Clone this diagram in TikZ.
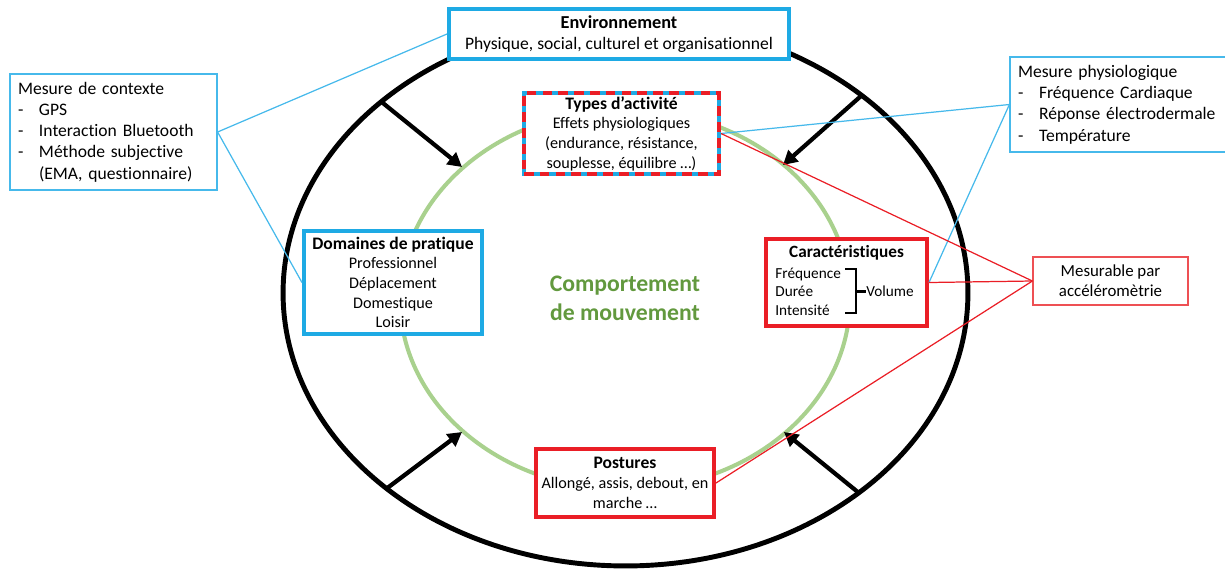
\documentclass[tikz,border=0pt]{standalone}
\usepackage{fontspec}
\setmainfont{Carlito}[Ligatures=NoCommon]
\usetikzlibrary{arrows.meta}

\definecolor{boxblue}{RGB}{30,170,228}
\definecolor{boxred}{RGB}{234,30,38}
\definecolor{thinblue}{RGB}{70,185,235}
\definecolor{thinred}{RGB}{238,80,84}
\definecolor{ringgreen}{RGB}{169,209,142}
\definecolor{textgreen}{RGB}{98,153,62}

\newcommand{\dashitem}[1]{\makebox[0.42cm][l]{-}#1}

\tikzset{
  bigbox/.style={line width=2.3pt, fill=white, align=center, inner sep=0pt},
  bluebox/.style={bigbox, draw=boxblue},
  redbox/.style={bigbox, draw=boxred},
  mixbox/.style={bigbox, draw=boxblue,
    postaction={draw=boxred, line width=2.3pt, dash pattern=on 5.5pt off 3.5pt}},
  notebox/.style={draw=thinblue, line width=0.7pt, fill=white, align=left,
    inner ysep=0pt, inner xsep=0.16cm, font=\fontsize{10}{12.1}\selectfont},
  mainfont/.style={font=\fontsize{10}{11.6}\selectfont},
  smallfont/.style={font=\fontsize{9.2}{11.2}\selectfont},
  tinyfont/.style={font=\fontsize{8.7}{10.5}\selectfont, inner sep=0pt},
  ring/.style={line width=2.8pt},
  inring/.style={draw=ringgreen, line width=2.3pt},
  push/.style={line width=2.4pt, -{Triangle[length=8pt, width=8.5pt]}},
  bluelink/.style={draw=thinblue, line width=0.7pt},
  redlink/.style={draw=boxred, line width=0.7pt},
}

\begin{document}
\begin{tikzpicture}[x=0.02cm, y=-0.02cm]
        \useasboundingbox (0,0) rectangle (1225,572);

        % Drawing the two rings
        \draw [ring] (625.5,293) ellipse [x radius=6.85cm, y radius=5.46cm];%
        \draw [inring] (625,299.5) ellipse [x radius=4.5cm, y radius=3.8cm];%

        % Arrow end points on the rings
        \coordinate (o1) at (381,101.5);
        \coordinate (i1) at (462,167);
        \coordinate (o2) at (861,96);
        \coordinate (i2) at (783,165);
        \coordinate (o3) at (386,489);
        \coordinate (i3) at (462,432);
        \coordinate (o4) at (859,493);
        \coordinate (i4) at (784,432);

        % Drawing arrows from outer ring to inner ring
        \draw [push] (o1) -- (i1);%
        \draw [push] (o2) -- (i2);%
        \draw [push] (o3) -- (i3);%
        \draw [push] (o4) -- (i4);%

        % Boxes on the rings
        \node [bluebox, mainfont, minimum width=6.8cm, minimum height=1.0cm] (env) at (619,34)
          {\textbf{\fontsize{10.4}{11.6}\selectfont Environnement}\\Physique, social, culturel et organisationnel};%
        \node [mixbox, smallfont, minimum width=3.9cm, minimum height=1.62cm] (types) at (621.5,133.5)
          {\textbf{\fontsize{10}{11.2}\selectfont Types d’activité}\\Effets physiologiques\\(endurance, résistance,\\souplesse, équilibre …)};%
        \node [bluebox, smallfont, minimum width=3.56cm, minimum height=2.06cm] (dom) at (393,282.5)
          {\textbf{\fontsize{10}{11.2}\selectfont Domaines de pratique}\\Professionnel\\Déplacement\\Domestique\\Loisir};%
        \node [redbox, minimum width=3.22cm, minimum height=1.74cm] (car) at (846.5,282.5) {};%
        \node [redbox, smallfont, minimum width=3.56cm, minimum height=1.36cm] (post) at (625,483)
          {\textbf{\fontsize{10}{11.2}\selectfont Postures}\\Allongé, assis, debout, en\\marche …};%

        % Contents of Caracteristiques
        \node [font=\bfseries\fontsize{9.8}{11}\selectfont, inner sep=0pt] (cartitle) at (846.5,253) {Caractéristiques};%
        \node [tinyfont, align=left, anchor=west] (carlist) at (775,291.5) {Fréquence\\Durée\\Intensité};%
        \node [tinyfont, anchor=west] (vol) at (866,291.5) {Volume};%
        \draw [line width=1.3pt] (845,269) -- (856,269) -- (856,313) -- (845,313);%
        \draw [line width=1.3pt] (856,291.5) -- (vol.west);%

        % Centre text
        \node [font=\bfseries\fontsize{13.5}{16.5}\selectfont, text=textgreen, align=center] (comp) at (625,298)
          {Comportement\\de mouvement};%

        % Measurement notes
        \node [notebox, text width=3.82cm, minimum height=2.32cm] (ctx) at (113.5,132)
          {Mesure de contexte\\\dashitem{GPS}\\\dashitem{Interaction Bluetooth}\\\dashitem{Méthode subjective}\\\hspace*{0.42cm}(EMA, questionnaire)};%
        \node [notebox, text width=4.04cm, minimum height=1.9cm] (phys) at (1119,104.5)
          {Mesure physiologique\\\dashitem{Fréquence Cardiaque}\\\dashitem{Réponse électrodermale}\\\dashitem{Température}};%
        \node [notebox, draw=thinred, align=center, font=\fontsize{9.6}{11.4}\selectfont,
          minimum width=3.1cm, minimum height=0.96cm] (mes) at (1110.5,281)
          {Mesurable par\\accéléromètrie};%

        % Drawing links
        \draw [bluelink] (ctx.east) -- (env.west);%
        \draw [bluelink] (ctx.east) -- (dom.west);%
        \draw [bluelink] (phys.west) -- (types.east);%
        \draw [bluelink] (phys.west) -- (car.east);%
        \draw [redlink] (mes.west) -- (types.east);%
        \draw [redlink] (mes.west) -- (car.east);%
        \draw [redlink] (mes.west) -- (post.east);%
\end{tikzpicture}
\end{document}
